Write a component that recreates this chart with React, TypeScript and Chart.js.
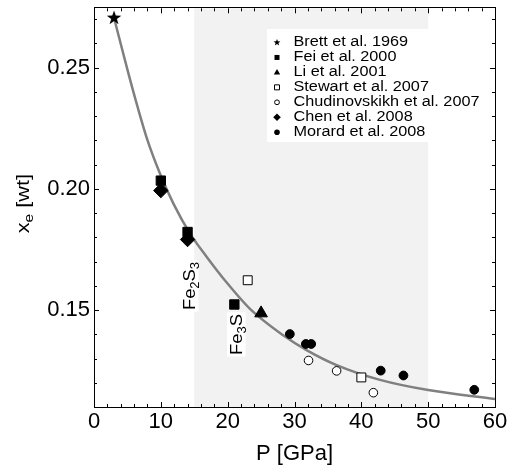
import React, { useEffect, useRef } from 'react';
import { Chart, registerables } from 'chart.js';

Chart.register(...registerables);

// ---- data ----
const brettP = [3];
const brettX = [0.2705];
const feiP = [10, 14, 21];
const feiX = [0.2034, 0.1822, 0.1523];
const liP = [25];
const liX = [0.1487];
const stewartP = [23, 40];
const stewartX = [0.1623, 0.1222];
const chudP = [32.1, 36.3, 41.8];
const chudX = [0.1292, 0.1249, 0.1159];
const chenP = [10, 14];
const chenX = [0.1993, 0.1791];
const morardP = [29.3, 31.7, 32.5, 42.9, 46.3, 56.9];
const morardX = [0.1401, 0.136, 0.136, 0.125, 0.123, 0.1171];

// gray fitted curve
const fitP = [3, 5, 6.5, 8, 9.9, 11.9, 14.4, 16.9, 19.6, 23.3, 28.3, 31.8, 36.3, 42.8, 50, 60];
const fitX = [0.2705, 0.2492, 0.234, 0.2201, 0.2061, 0.1938, 0.1814, 0.1718, 0.1622, 0.1506, 0.1396, 0.1335, 0.1273, 0.1212, 0.117, 0.1133];

const seriesLabels = [
  'Brett et al. 1969',
  'Fei et al. 2000',
  'Li et al. 2001',
  'Stewart et al. 2007',
  'Chudinovskikh et al. 2007',
  'Chen et al. 2008',
  'Morard et al. 2008',
];
const legendKinds = ['star', 'square', 'triangle', 'openSquare', 'openCircle', 'diamond', 'circle'];

const xTickValues = [0, 10, 20, 30, 40, 50, 60];
const yTickValues = [0.15, 0.2, 0.25];
const shadedRange = [15, 50];

const phaseLabelParts: [string, string][][] = [
  [['Fe', '2'], ['S', '3']],
  [['Fe', '3'], ['S', '']],
];
const phaseLabelP = [15.04, 22.07];
const phaseLabelX = [0.15, 0.1315];

const FONT = "'Liberation Sans', Arial, Helvetica, sans-serif";

function pts(xs: number[], ys: number[]) {
  return xs.map((x, i) => ({ x, y: ys[i] }));
}

function makeStar(size: number, R: number, r: number) {
  const c = document.createElement('canvas');
  c.width = size;
  c.height = size;
  const g = c.getContext('2d')!;
  const cx = size / 2, cy = size / 2;
  g.beginPath();
  for (let i = 0; i < 10; i++) {
    const rad = i % 2 === 0 ? R : r;
    const a = -Math.PI / 2 + (i * Math.PI) / 5;
    const px = cx + rad * Math.cos(a);
    const py = cy + rad * Math.sin(a);
    if (i === 0) g.moveTo(px, py);
    else g.lineTo(px, py);
  }
  g.closePath();
  g.fillStyle = '#000';
  g.fill();
  return c;
}

function drawMarker(ctx: CanvasRenderingContext2D, kind: string, x: number, y: number) {
  ctx.save();
  ctx.fillStyle = '#000';
  ctx.strokeStyle = '#000';
  ctx.lineWidth = 1;
  ctx.beginPath();
  switch (kind) {
    case 'star': {
      const R = 3.6, r = 1.5;
      for (let i = 0; i < 10; i++) {
        const rad = i % 2 === 0 ? R : r;
        const a = -Math.PI / 2 + (i * Math.PI) / 5;
        const px = x + rad * Math.cos(a), py = y + rad * Math.sin(a);
        if (i === 0) ctx.moveTo(px, py);
        else ctx.lineTo(px, py);
      }
      ctx.closePath();
      ctx.fill();
      break;
    }
    case 'square':
      ctx.fillRect(x - 2.5, y - 2.5, 5, 5);
      break;
    case 'triangle':
      ctx.moveTo(x, y - 3.5);
      ctx.lineTo(x + 3.2, y + 2.2);
      ctx.lineTo(x - 3.2, y + 2.2);
      ctx.closePath();
      ctx.fill();
      break;
    case 'openSquare':
      ctx.fillStyle = '#fff';
      ctx.rect(x - 2.5, y - 2.5, 5, 5);
      ctx.fill();
      ctx.stroke();
      break;
    case 'openCircle':
      ctx.fillStyle = '#fff';
      ctx.arc(x, y, 2.4, 0, Math.PI * 2);
      ctx.fill();
      ctx.stroke();
      break;
    case 'diamond':
      ctx.moveTo(x, y - 3.8);
      ctx.lineTo(x + 3.8, y);
      ctx.lineTo(x, y + 3.8);
      ctx.lineTo(x - 3.8, y);
      ctx.closePath();
      ctx.fill();
      break;
    case 'circle':
      ctx.arc(x, y, 2.8, 0, Math.PI * 2);
      ctx.fill();
      break;
  }
  ctx.restore();
}

function drawRotatedParts(
  ctx: CanvasRenderingContext2D,
  parts: [string, string][],
  bx: number,
  by: number,
  mainSize: number,
  subSize: number,
  stretch: number,
  centered: boolean,
  box: [number, number] | null,
) {
  ctx.save();
  ctx.translate(bx, by);
  ctx.rotate(-Math.PI / 2);
  ctx.scale(stretch, 1);
  ctx.textBaseline = 'alphabetic';
  ctx.textAlign = 'left';
  let w = 0;
  for (const [m, s] of parts) {
    ctx.font = `${mainSize}px ${FONT}`;
    w += ctx.measureText(m).width;
    ctx.font = `${subSize}px ${FONT}`;
    w += ctx.measureText(s).width;
  }
  let x = centered ? -w / 2 : 0;
  if (box) {
    ctx.fillStyle = '#fff';
    ctx.fillRect(x - 1.5, box[0], w + 3, box[1] - box[0]);
  }
  ctx.fillStyle = '#000';
  for (const [m, s] of parts) {
    ctx.font = `${mainSize}px ${FONT}`;
    ctx.fillText(m, x, 0);
    x += ctx.measureText(m).width;
    if (s) {
      ctx.font = `${subSize}px ${FONT}`;
      ctx.fillText(s, x, 4);
      x += ctx.measureText(s).width;
    }
  }
  ctx.restore();
}

const decorPlugin = {
  id: 'decor',
  beforeDatasetsDraw(chart: any) {
    const { ctx, chartArea } = chart;
    const xs = chart.scales.x;
    const x0 = xs.getPixelForValue(shadedRange[0]);
    const x1 = xs.getPixelForValue(shadedRange[1]);
    ctx.save();
    ctx.fillStyle = '#f2f2f2';
    ctx.fillRect(x0, chartArea.top, x1 - x0, chartArea.bottom - chartArea.top);
    ctx.restore();
  },
  afterDatasetsDraw(chart: any) {
    const { ctx, chartArea } = chart;
    const { left, right, top, bottom } = chartArea;
    const xs = chart.scales.x;
    const ys = chart.scales.y;

    // legend
    ctx.save();
    ctx.fillStyle = '#fff';
    ctx.fillRect(267, 29, 222, 113);
    seriesLabels.forEach((lab, i) => {
      const y = 41.7 + i * 14.95;
      drawMarker(ctx, legendKinds[i], 277, y + 0.8);
      ctx.save();
      ctx.translate(293.5, y);
      ctx.scale(1.16, 1);
      ctx.font = `14px ${FONT}`;
      ctx.fillStyle = '#000';
      ctx.textBaseline = 'middle';
      ctx.textAlign = 'left';
      ctx.fillText(lab, 0, 0.5);
      ctx.restore();
    });
    ctx.restore();

    // phase labels
    phaseLabelParts.forEach((parts, i) => {
      const bx = xs.getPixelForValue(phaseLabelP[i]);
      const by = ys.getPixelForValue(phaseLabelX[i]);
      drawRotatedParts(ctx, parts, bx, by, 17, 12, 1.08, false, [-14.5, 4]);
    });

    // ticks + frame
    ctx.save();
    ctx.strokeStyle = '#000';
    ctx.lineWidth = 1;
    ctx.beginPath();
    for (let i = 0; i <= 30; i++) {
      const v = i * 2;
      const px = Math.round(xs.getPixelForValue(v)) + 0.5;
      const L = i % 5 === 0 ? 5 : 3;
      ctx.moveTo(px, bottom);
      ctx.lineTo(px, bottom - L);
      ctx.moveTo(px, top);
      ctx.lineTo(px, top + L);
    }
    for (let i = 11; i <= 27; i++) {
      const v = i / 100;
      const py = Math.round(ys.getPixelForValue(v)) + 0.5;
      const L = i % 5 === 0 ? 5 : 3;
      ctx.moveTo(left, py);
      ctx.lineTo(left + L, py);
      ctx.moveTo(right, py);
      ctx.lineTo(right - L, py);
    }
    ctx.stroke();
    ctx.strokeRect(Math.round(left) + 0.5, Math.round(top) - 0.5, Math.round(right - left), Math.round(bottom - top) + 1);
    ctx.restore();
  },
  afterDraw(chart: any) {
    const { ctx, chartArea } = chart;
    const cy = (chartArea.top + chartArea.bottom) / 2 - 4;
    drawRotatedParts(ctx, [['x', 'e'], [' [wt]', '']], 29.2, cy, 18, 13, 1.2, true, null);
  },
};

export default function App() {
  const ref = useRef<HTMLCanvasElement>(null);

  useEffect(() => {
    const canvas = ref.current!;
    const star = makeStar(18, 7.6, 3.0);
    const black = '#000';
    const chart = new Chart(canvas, {
      type: 'scatter',
      data: {
        datasets: [
          {
            label: 'fit',
            data: pts(fitP, fitX),
            showLine: true,
            borderColor: '#808080',
            borderWidth: 2.5,
            pointRadius: 0,
            fill: false,
            cubicInterpolationMode: 'monotone',
            order: 10,
          } as any,
          { label: seriesLabels[0], data: pts(brettP, brettX), pointStyle: star as any, order: 1 },
          { label: seriesLabels[1], data: pts(feiP, feiX), pointStyle: 'rect', pointRadius: 6.6, backgroundColor: black, borderColor: black, borderWidth: 1, order: 1 },
          { label: seriesLabels[2], data: pts(liP, liX), pointStyle: 'triangle', pointRadius: 7.3, backgroundColor: black, borderColor: black, borderWidth: 1, order: 1 },
          { label: seriesLabels[3], data: pts(stewartP, stewartX), pointStyle: 'rect', pointRadius: 6.3, backgroundColor: '#fff', borderColor: black, borderWidth: 1, order: 1 },
          { label: seriesLabels[4], data: pts(chudP, chudX), pointStyle: 'circle', pointRadius: 4.3, backgroundColor: '#fff', borderColor: black, borderWidth: 1, order: 1 },
          { label: seriesLabels[5], data: pts(chenP, chenX), pointStyle: 'rectRot', pointRadius: 7.2, backgroundColor: black, borderColor: black, borderWidth: 1, order: 1 },
          { label: seriesLabels[6], data: pts(morardP, morardX), pointStyle: 'circle', pointRadius: 4.4, backgroundColor: black, borderColor: black, borderWidth: 1, order: 1 },
        ],
      },
      options: {
        responsive: false,
        animation: false,
        events: [],
        layout: { padding: { left: 0, top: 7, right: 14, bottom: 0 } },
        plugins: {
          legend: { display: false },
          tooltip: { enabled: false },
        },
        scales: {
          x: {
            type: 'linear',
            min: 0,
            max: 60,
            grid: { display: false, drawTicks: false },
            border: { display: false },
            ticks: {
              font: { family: FONT, size: 22 },
              color: '#000',
              padding: 2,
              autoSkip: false,
              maxRotation: 0,
            },
            afterBuildTicks: (s: any) => {
              s.ticks = xTickValues.map((v) => ({ value: v }));
            },
            afterFit: (s: any) => {
              s.height = 68;
              s.paddingLeft = 0;
              s.paddingRight = 0;
            },
            title: {
              display: true,
              text: 'P [GPa]',
              font: { family: FONT, size: 22 },
              color: '#000',
              padding: { top: 0, bottom: 8 },
            },
          },
          y: {
            type: 'linear',
            min: 0.11,
            max: 0.2745,
            grid: { display: false, drawTicks: false },
            border: { display: false },
            ticks: {
              font: { family: FONT, size: 22 },
              color: '#000',
              padding: 4,
              autoSkip: false,
              callback: (v: any) => Number(v).toFixed(2),
            },
            afterBuildTicks: (s: any) => {
              s.ticks = yTickValues.map((v) => ({ value: v }));
            },
            afterFit: (s: any) => {
              s.width = 94;
              s.paddingTop = 0;
              s.paddingBottom = 0;
            },
          },
        },
      },
      plugins: [decorPlugin],
    });
    return () => chart.destroy();
  }, []);

  return (
    <div style={{ position: 'absolute', left: 0, top: 0, width: 509, height: 475, background: '#fff' }}>
      <canvas ref={ref} width={509} height={475} style={{ display: 'block' }} />
    </div>
  );
}
